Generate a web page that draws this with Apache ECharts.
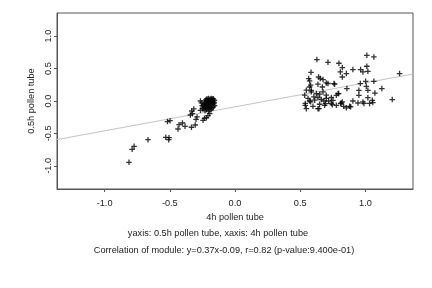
<!DOCTYPE html>
<html>
<head>
<meta charset="utf-8">
<script src="https://cdn.jsdelivr.net/npm/echarts@6/dist/echarts.min.js"></script>
<style>
  html, body { margin: 0; padding: 0; background: #fff; }
  #chart { width: 432px; height: 288px; }
</style>
</head>
<body>
<div id="chart"></div>
<script>
// ── Data ───────────────────────────────────────────────
// 4h pollen tube (x) vs 0.5h pollen tube (y)
const leftCluster = [
  [-0.813,-0.946],[-0.789,-0.745],[-0.774,-0.699],[-0.667,-0.596],[-0.531,-0.560],
  [-0.506,-0.565],[-0.508,-0.596],[-0.518,-0.318],[-0.498,-0.303],[-0.437,-0.432],
  [-0.429,-0.365],[-0.403,-0.339],[-0.383,-0.390],[-0.334,-0.405],[-0.305,-0.370],
  [-0.299,-0.283],[-0.291,-0.246],[-0.326,-0.195],[-0.316,-0.123],[-0.332,-0.154],
  [-0.342,-0.216],[-0.265,0.000],[-0.245,-0.298],[-0.234,-0.267],[-0.219,-0.257],
  [-0.207,-0.226],[-0.194,-0.195],[-0.265,-0.144],[-0.250,-0.118],
  [-0.245,-0.09],[-0.238,-0.06],[-0.232,-0.03],[-0.228,0.00],[-0.222,0.02],
  [-0.215,0.035],[-0.210,0.01],[-0.205,-0.02],[-0.200,-0.05],[-0.195,-0.08],
  [-0.190,0.03],[-0.185,0.00],[-0.180,-0.03],[-0.176,0.02],[-0.172,-0.06],
  [-0.168,-0.01],[-0.165,0.03],[-0.162,-0.04],[-0.158,0.01],[-0.156,-0.07],
  [-0.212,-0.10],[-0.220,-0.13],[-0.230,-0.15],[-0.198,-0.12],[-0.186,-0.10],
  [-0.175,-0.11],[-0.240,-0.12],[-0.252,-0.07],[-0.218,-0.05],[-0.203,0.04],
  [-0.193,0.015],[-0.182,0.04],[-0.170,0.035],[-0.208,-0.075],[-0.188,-0.055],
  [-0.226,-0.085],[-0.160,-0.02],[-0.178,0.005],[-0.196,-0.015],[-0.214,0.005],
  [-0.234,-0.045],[-0.166,-0.09],[-0.183,-0.135],[-0.203,-0.155],[-0.258,-0.03]
];

const rightCluster = [
  [0.628,0.639],[0.713,0.597],[0.797,0.582],[0.823,0.515],[0.808,0.448],
  [0.854,0.423],[0.904,0.485],[1.011,0.705],[1.065,0.679],[1.011,0.536],
  [0.981,0.448],[1.019,0.458],[1.262,0.423],[0.583,0.443],[0.565,0.346],
  [0.572,0.309],[0.641,0.370],[0.654,0.346],[0.675,0.330],[0.572,0.216],
  [0.585,0.165],[0.700,0.278],[0.759,0.269],[0.670,0.216],[0.823,0.370],
  [0.858,0.191],[0.961,0.269],[1.002,0.304],[1.007,0.227],[1.065,0.304],
  [0.950,0.165],[0.950,0.088],[1.019,0.165],[1.073,0.123],[1.126,0.191],
  [1.206,0.022],[1.019,0.052],[1.053,0.011],[1.057,-0.025],[0.981,-0.015],
  [0.943,-0.031],[0.904,0.000],[0.823,-0.015],[0.833,-0.082],[0.879,-0.082],
  [0.810,-0.040],[0.746,-0.056],[0.695,-0.040],[0.644,-0.118],[0.539,-0.066],
  [0.777,0.088],[0.790,0.114],[0.963,0.484],[1.032,-0.038],[0.989,-0.038],
  [0.887,-0.090],[0.854,-0.106],
  [0.580,0.244],[0.636,0.260],[0.713,0.270],[0.764,0.260],[0.547,0.167],
  [0.585,0.141],[0.624,0.115],[0.649,0.105],[0.675,0.141],[0.700,0.090],
  [0.534,0.090],[0.560,0.039],[0.580,-0.013],[0.539,-0.038],[0.611,0.013],
  [0.636,0.054],[0.662,0.023],[0.700,0.039],[0.739,0.054],[0.795,0.115],
  [0.649,-0.050],[0.687,-0.066],[0.739,-0.038],[0.636,-0.118],[0.598,-0.082],
  [0.777,-0.066],[0.815,-0.029],[0.547,-0.118],[0.572,0.000],[0.605,0.064],
  [0.682,0.000],[0.718,0.000],[0.751,0.011]
];

// fitted line y = slope * x + intercept
const slope     = 0.37;
const intercept = -0.09;

const xRange = [-1.365, 1.365];
const yRange = [-1.357, 1.357];
const xTicks = [-1, -0.5, 0, 0.5, 1];
const yTicks = [-1, -0.5, 0, 0.5, 1];

const xTitle   = '4h pollen tube';
const yTitle   = '0.5h pollen tube';
const subLine1 = 'yaxis: 0.5h pollen tube, xaxis: 4h pollen tube';
const subLine2 = 'Correlation of module: y=0.37x-0.09, r=0.82 (p-value:9.400e-01)';

// ── Chart ──────────────────────────────────────────────
const FONT = '"Liberation Sans", Arial, sans-serif';
const PLUS = 'path://M0,2.3H6V3.7H0ZM2.3,0H3.7V6H2.3Z';

const chart = echarts.init(document.getElementById('chart'), null, { renderer: 'canvas' });

const fitLine = xRange.map(x => [x, slope * x + intercept]);

chart.setOption({
  backgroundColor: '#fff',
  animation: false,
  grid: {
    left: 57, right: 19, top: 13, bottom: 99,
    show: true, borderColor: '#555', borderWidth: 1, backgroundColor: 'transparent'
  },
  xAxis: {
    type: 'value',
    min: xRange[0], max: xRange[1],
    axisLine: { show: true, onZero: false, lineStyle: { color: '#555', width: 1 } },
    splitLine: { show: false },
    axisTick: { show: true, customValues: xTicks, length: 3, lineStyle: { color: '#555' } },
    axisLabel: {
      customValues: xTicks, margin: 10,
      fontFamily: FONT, fontSize: 9.2, color: '#222',
      formatter: v => v.toFixed(1)
    },
    name: xTitle, nameLocation: 'middle', nameGap: 21,
    nameTextStyle: { fontFamily: FONT, fontSize: 9.2, color: '#222' }
  },
  yAxis: {
    type: 'value',
    min: yRange[0], max: yRange[1],
    axisLine: { show: true, onZero: false, lineStyle: { color: '#555', width: 1 } },
    splitLine: { show: false },
    axisTick: { show: true, customValues: yTicks, length: 3, lineStyle: { color: '#555' } },
    axisLabel: {
      customValues: yTicks, margin: 4, rotate: 90,
      fontFamily: FONT, fontSize: 9.2, color: '#222',
      formatter: v => v.toFixed(1)
    },
    name: yTitle, nameLocation: 'middle', nameGap: 16, nameRotate: 90,
    nameTextStyle: { fontFamily: FONT, fontSize: 9.2, color: '#222' }
  },
  graphic: [
    { type: 'text', x: 218, y: 233,
      style: { text: subLine1, font: '9.2px ' + FONT, fill: '#222', textAlign: 'center', textVerticalAlign: 'middle' } },
    { type: 'text', x: 224, y: 250,
      style: { text: subLine2, font: '9.2px ' + FONT, fill: '#222', textAlign: 'center', textVerticalAlign: 'middle' } }
  ],
  series: [
    {
      type: 'line',
      data: fitLine,
      symbol: 'none',
      silent: true,
      lineStyle: { color: '#c4c4c4', width: 1 },
      z: 1
    },
    {
      type: 'scatter',
      data: leftCluster.concat(rightCluster),
      symbol: PLUS,
      symbolSize: 5.5,
      itemStyle: { color: '#000' },
      silent: true,
      z: 2
    }
  ]
});
</script>
</body>
</html>
